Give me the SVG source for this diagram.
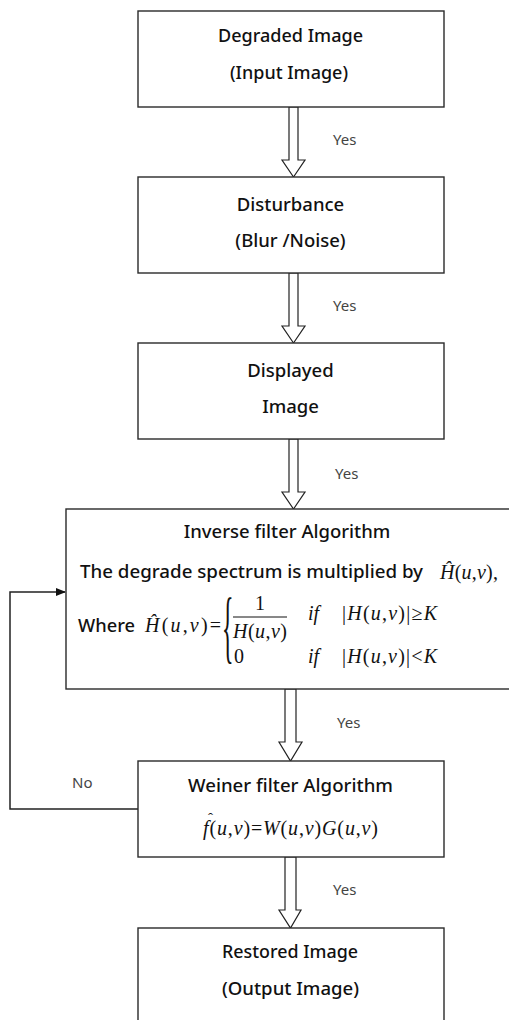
<svg xmlns="http://www.w3.org/2000/svg" width="509" height="1020" viewBox="0 0 509 1020">
<style>
.box{fill:#fff;stroke:#2a2a2a;stroke-width:1.4}
.t{font-family:"Noto Sans","Open Sans",sans-serif;font-size:18.5px;font-weight:500;fill:#111;text-anchor:middle}
.tl{font-family:"Noto Sans","Open Sans",sans-serif;font-size:18.5px;font-weight:500;fill:#111}
.lbl{font-family:"Noto Sans","Open Sans",sans-serif;font-size:15px;fill:#444}
.m{font-family:"Liberation Serif","Times New Roman",serif;font-size:20px;fill:#111}
.i{font-style:italic}
.arr{fill:#fff;stroke:#222;stroke-width:1.2;stroke-linejoin:miter}
.ln{fill:none;stroke:#222;stroke-width:1.5}
</style>
<defs>
<marker id="ah" markerWidth="10" markerHeight="8" refX="9" refY="4" orient="auto" markerUnits="userSpaceOnUse">
<path d="M0,0 L10,4 L0,8 Z" fill="#111"/>
</marker>
</defs>
<g id="connectors">
<polygon class="arr" points="289,107 298,107 298,160 305,160 293.5,177 282,160 289,160"/>
<polygon class="arr" points="289,273 298,273 298,326 305,326 293.5,343 282,326 289,326"/>
<polygon class="arr" points="289,439 298,439 298,492 305,492 293.5,509 282,492 289,492"/>
<polygon class="arr" points="285,689 296,689 296,742 302,742 290.5,761 279,742 285,742"/>
<polygon class="arr" points="285,857 296,857 296,910 301,910 290.5,928 279,910 285,910"/>
<polyline class="ln" points="138,809 10,809 10,592 65,592" marker-end="url(#ah)"/>
<text class="lbl" x="333" y="145">Yes</text>
<text class="lbl" x="333" y="311">Yes</text>
<text class="lbl" x="335" y="479">Yes</text>
<text class="lbl" x="337" y="728">Yes</text>
<text class="lbl" x="333" y="895">Yes</text>
<text class="lbl" x="72" y="788">No</text>
</g>
<g id="node-degraded">
<rect class="box" x="138" y="11" width="306" height="96"/>
<text class="t" x="290.5" y="42" textLength="145" lengthAdjust="spacingAndGlyphs">Degraded Image</text>
<text class="t" x="289" y="79" textLength="118" lengthAdjust="spacingAndGlyphs">(Input Image)</text>
</g>
<g id="node-disturbance">
<rect class="box" x="138" y="177" width="306" height="96"/>
<text class="t" x="290.5" y="211">Disturbance</text>
<text class="t" x="290.5" y="247">(Blur /Noise)</text>
</g>
<g id="node-displayed">
<rect class="box" x="138" y="343" width="306" height="96"/>
<text class="t" x="290.5" y="377">Displayed</text>
<text class="t" x="290.5" y="413">Image</text>
</g>
<g id="node-inverse">
<rect class="box" x="66" y="509" width="460" height="180"/>
<text class="t" x="287" y="538">Inverse filter Algorithm</text>
<text class="tl" x="80" y="578" textLength="343" lengthAdjust="spacingAndGlyphs">The degrade spectrum is multiplied by</text>
<text class="m" x="440" y="579" textLength="58" lengthAdjust="spacing"><tspan class="i">Ĥ</tspan>(<tspan class="i">u</tspan>,<tspan class="i">v</tspan>),</text>
<text class="tl" x="78" y="632" textLength="57" lengthAdjust="spacingAndGlyphs">Where</text>
<text class="m" x="145" y="632" textLength="76" lengthAdjust="spacing"><tspan class="i">Ĥ</tspan>(<tspan class="i">u</tspan>,<tspan class="i">v</tspan>)=</text>
<text class="m" style="font-size:80px" transform="translate(222,653) scale(0.3,1)">{</text>
<text class="m" x="260" y="610" text-anchor="middle">1</text>
<line x1="233" y1="617" x2="287" y2="617" stroke="#111" stroke-width="1"/>
<text class="m" x="233" y="638" textLength="54" lengthAdjust="spacing"><tspan class="i">H</tspan>(<tspan class="i">u</tspan>,<tspan class="i">v</tspan>)</text>
<text class="m" x="234" y="663">0</text>
<text class="m i" x="308" y="620">if</text>
<text class="m i" x="308" y="663">if</text>
<text class="m" x="342" y="620" textLength="95" lengthAdjust="spacing">|<tspan class="i">H</tspan>(<tspan class="i">u</tspan>,<tspan class="i">v</tspan>)|≥<tspan class="i">K</tspan></text>
<text class="m" x="342" y="663" textLength="95" lengthAdjust="spacing">|<tspan class="i">H</tspan>(<tspan class="i">u</tspan>,<tspan class="i">v</tspan>)|&lt;<tspan class="i">K</tspan></text>
</g>
<g id="node-weiner">
<rect class="box" x="138" y="761" width="306" height="96"/>
<text class="t" x="290.5" y="792" textLength="205" lengthAdjust="spacingAndGlyphs">Weiner filter Algorithm</text>
<text class="m" x="203" y="835" textLength="175" lengthAdjust="spacing"><tspan class="i">f</tspan>(<tspan class="i">u</tspan>,<tspan class="i">v</tspan>)=<tspan class="i">W</tspan>(<tspan class="i">u</tspan>,<tspan class="i">v</tspan>)<tspan class="i">G</tspan>(<tspan class="i">u</tspan>,<tspan class="i">v</tspan>)</text>
<text class="m" x="208" y="823" style="font-size:15px">ˆ</text>
</g>
<g id="node-restored">
<rect class="box" x="138" y="928" width="306" height="110"/>
<text class="t" x="290" y="958" textLength="136" lengthAdjust="spacingAndGlyphs">Restored Image</text>
<text class="t" x="290.5" y="995" textLength="137" lengthAdjust="spacingAndGlyphs">(Output Image)</text>
</g>
</svg>
